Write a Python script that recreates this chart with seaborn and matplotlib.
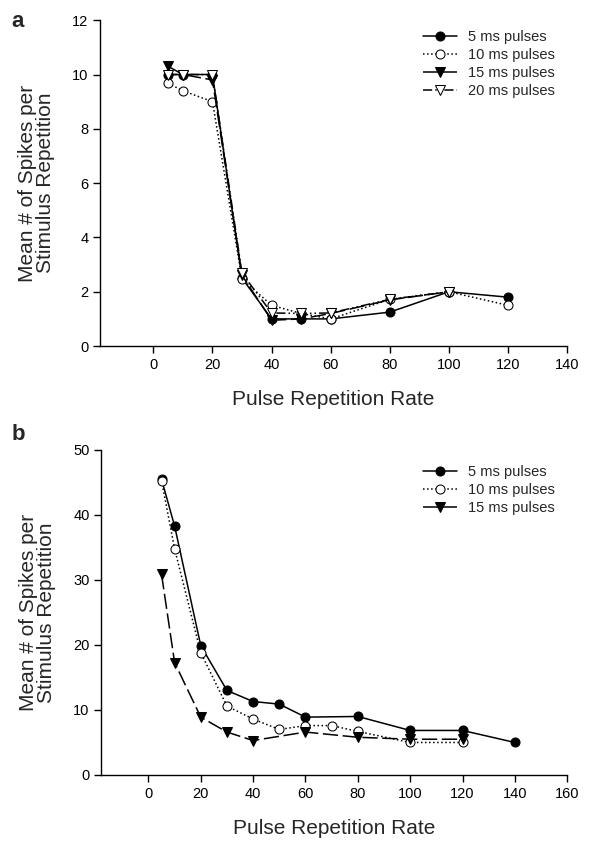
import numpy as np
import pandas as pd
import matplotlib
matplotlib.use("Agg")
import matplotlib.pyplot as plt
import seaborn as sns

sns.set_style("ticks")
plt.rcParams['font.family'] = ['Liberation Sans', 'DejaVu Sans']

######## Data
# panel a
rate_a = [5, 10, 20, 30, 40, 50, 60, 80, 100, 120]
a_5ms = [10.0, 10.0, 10.0, 2.5, 1.0, 1.0, 1.0, 1.25, 2.0, 1.8]
a_10ms = [9.68, 9.4, 9.0, 2.47, 1.5, 1.2, 1.0, 1.72, 2.0, 1.5]
rate_a_long = [5, 10, 20, 30, 40, 50, 60, 80, 100]
a_15ms = [10.3, 10.0, 9.8, 2.6, 0.95, 1.0, 1.2, 1.7, 2.0]
a_20ms = [10.0, 10.0, 10.0, 2.68, 1.22, 1.2, 1.22, 1.72, 2.0]

# panel b
rate_b5 = [5, 10, 20, 30, 40, 50, 60, 80, 100, 120, 140]
b_5ms = [45.5, 38.3, 19.9, 13.0, 11.3, 10.9, 8.9, 9.0, 6.85, 6.85, 5.0]
rate_b10 = [5, 10, 20, 30, 40, 50, 60, 70, 80, 100, 120]
b_10ms = [45.3, 34.8, 18.8, 10.6, 8.6, 7.0, 7.6, 7.6, 6.7, 5.0, 5.0]
rate_b15 = [5, 10, 20, 30, 40, 60, 80, 100, 120]
b_15ms = [30.9, 17.3, 8.9, 6.6, 5.3, 6.6, 5.8, 5.5, 5.5]

labels = ["5 ms pulses", "10 ms pulses", "15 ms pulses", "20 ms pulses"]

######## Styles
styles = [
    dict(marker="o", mfc="black", mec="black", ls="-"),
    dict(marker="o", mfc="white", mec="black", ls=":"),
    dict(marker="v", mfc="black", mec="black", ls=(0, (10, 3))),
    dict(marker="v", mfc="white", mec="black", ls=(0, (6, 2, 1, 2, 1, 2))),
]

fig = plt.figure(figsize=(5.89, 8.42), dpi=100)
ax1 = fig.add_axes([0.170, 0.589, 0.793, 0.387])
ax2 = fig.add_axes([0.172, 0.0796, 0.791, 0.386])

#! panel a
series_a = [(rate_a, a_5ms), (rate_a, a_10ms), (rate_a_long, a_15ms), (rate_a_long, a_20ms)]
for (xs, ys), lab, st in zip(series_a, labels, styles):
    sns.lineplot(x=xs, y=ys, ax=ax1, color="black", lw=1.1, markersize=6.5,
                 label=lab, **st)

#! panel b
series_b = [(rate_b5, b_5ms), (rate_b10, b_10ms), (rate_b15, b_15ms)]
for (xs, ys), lab, st in zip(series_b, labels[:3], styles[:3]):
    sns.lineplot(x=xs, y=ys, ax=ax2, color="black", lw=1.1, markersize=6.5,
                 label=lab, **st)

def style_axes(ax, xmax, ymax, ystep, leg_y):
    ax.set_xlim(-18, xmax)
    ax.set_ylim(0, ymax)
    ax.set_xticks(np.arange(0, xmax + 1, 20))
    ax.set_yticks(np.arange(0, ymax + 1, ystep))
    sns.despine(ax=ax)
    for s in ["left", "bottom"]:
        ax.spines[s].set_linewidth(1.0)
        ax.spines[s].set_color("black")
    ax.tick_params(direction="out", length=5, width=1, labelsize=10.5, colors="black")
    ax.set_xlabel("Pulse Repetition Rate", fontsize=15, labelpad=13)
    ax.set_ylabel("Mean # of Spikes per\nStimulus Repetition", fontsize=15,
                  labelpad=12, linespacing=0.95)
    ax.legend(frameon=False, loc="upper left", fontsize=10.5, handlelength=2.3,
              handletextpad=0.75, labelspacing=0.27, borderpad=0.4,
              bbox_to_anchor=(410 / 589, leg_y), bbox_transform=fig.transFigure)

style_axes(ax1, 140, 12, 2, 1 - 17 / 842)
style_axes(ax2, 160, 50, 10, 1 - 452 / 842)

fig.text(0.02, 0.968, "a", fontsize=16, fontweight="bold")
fig.text(0.02, 0.478, "b", fontsize=16, fontweight="bold")

plt.savefig("out.png", dpi=100)
